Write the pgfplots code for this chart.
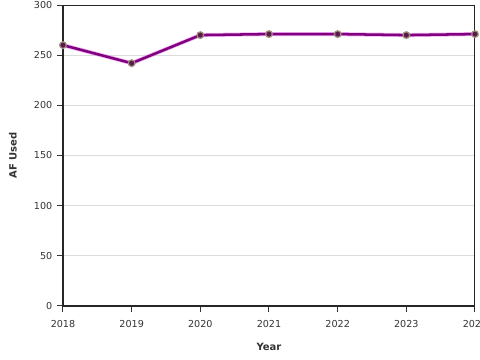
\documentclass[border=0pt]{standalone}
\usepackage{fontspec}
\setmainfont{DejaVu Sans}
\usepackage{pgfplots}
\pgfplotsset{compat=1.18}
\definecolor{ln}{RGB}{128,0,128}
\definecolor{halo}{RGB}{230,120,230}
\definecolor{mfill}{RGB}{90,25,80}
\definecolor{medge}{RGB}{160,145,120}
\definecolor{txt}{RGB}{51,51,51}
\begin{document}
\begin{tikzpicture}[x=0.75pt,y=0.75pt]
\begin{axis}[
  at={(0,0)}, anchor=south west,
  scale only axis, width=309pt, height=225.75pt,
  xmin=2018, xmax=2024, ymin=0, ymax=300,
  xtick={2018,2019,2020,2021,2022,2023,2024},
  ytick={0,50,100,150,200,250,300},
  /pgf/number format/assume math mode=true,
  xticklabel style={/pgf/number format/1000 sep={}, yshift=-2.5pt},
  tick label style={font=\fontsize{7.2}{8}\selectfont, text=txt},
  tick align=outside, tick pos=left,
  major tick length=4.5pt,
  tick style={txt, line width=0.75pt},
  axis line style={black!85, line width=0.75pt},
  ymajorgrids, major grid style={draw={rgb,255:red,220;green,220;blue,220}, line width=0.6pt},
  xlabel={Year}, ylabel={AF Used},
  label style={font=\bfseries\fontsize{7.5}{9}\selectfont, text=txt},
  xlabel style={at={(axis description cs:0.5,-0.1362)}, anchor=center},
  ylabel style={at={(axis description cs:-0.1214,0.5)}, anchor=center},
  clip=false,
]
\draw[black!85, line width=1.5pt] (rel axis cs:0,1) -- (rel axis cs:0,0) -- (rel axis cs:1,0);
\addplot[halo, line width=3pt, opacity=0.6, forget plot] coordinates {
 (2018,260) (2019,242) (2020,270) (2021,271) (2022,271) (2023,270) (2024,271)};
\addplot[ln, line width=1.9pt, mark=*, mark size=2.5pt,
  mark options={fill=mfill, draw=medge, line width=0.9pt}] coordinates {
 (2018,260) (2019,242) (2020,270) (2021,271) (2022,271) (2023,270) (2024,271)};
\end{axis}
\pgfresetboundingbox
\useasboundingbox (-63,-54) rectangle (417,306);
\end{tikzpicture}
\end{document}
